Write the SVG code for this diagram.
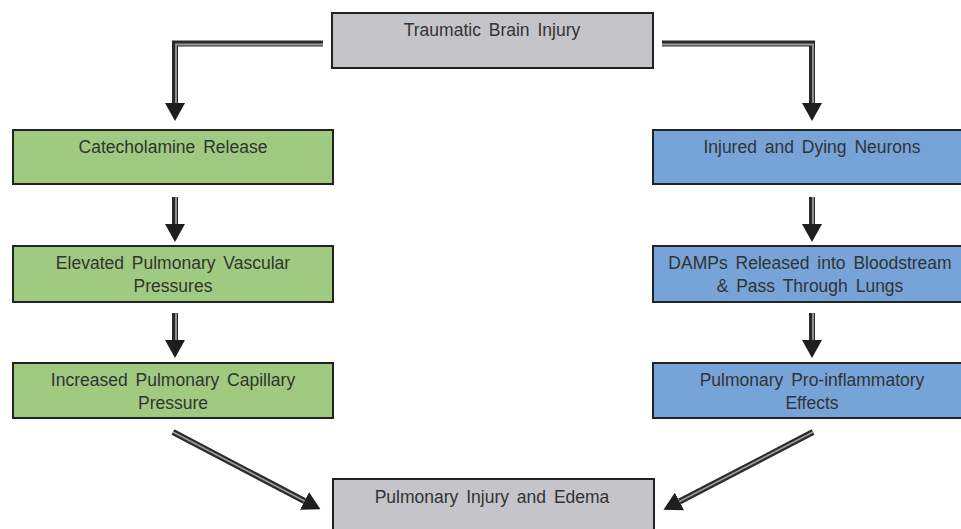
<svg xmlns="http://www.w3.org/2000/svg" width="961" height="529" viewBox="0 0 961 529">
<style>
.box{stroke:#222;stroke-width:2}
.gray{fill:#c4c4c9}
.green{fill:#9fca80}
.blue{fill:#76a3d8}
text{font-family:"Liberation Sans",Arial,sans-serif;font-size:17.5px;fill:#333;text-anchor:middle;word-spacing:3px}
.outer{fill:none;stroke:#2a2a2a;stroke-width:6;marker-end:url(#ah)}
.inner{fill:none;stroke:#9a9a9a;stroke-width:1.8}
</style>
<defs>
<marker id="ah" markerUnits="userSpaceOnUse" markerWidth="18" markerHeight="20" refX="0" refY="10" orient="auto" viewBox="0 0 18 20">
<path d="M0,0 L18,10 L0,20 z" fill="#1e1e1e"/>
</marker>
</defs>
<rect width="961" height="529" fill="#fff"/>
<g id="connectors">
<path class="outer" d="M323,43.5 H175 V103"/>
<path class="inner" d="M323,44.5 H176 V103"/>
<path class="outer" d="M662,43.5 H812 V103"/>
<path class="inner" d="M662,44.5 H813 V103"/>
<path class="outer" d="M175,197 V224"/>
<path class="inner" d="M176,197 V224"/>
<path class="outer" d="M175,313 V340"/>
<path class="inner" d="M176,313 V340"/>
<path class="outer" d="M812,197 V224"/>
<path class="inner" d="M813,197 V224"/>
<path class="outer" d="M812,313 V340"/>
<path class="inner" d="M813,313 V340"/>
<path class="outer" d="M173,432 L304.5,501"/>
<path class="inner" d="M173,432 L304.5,501"/>
<path class="outer" d="M813,432 L679.5,501.5"/>
<path class="inner" d="M813,432 L679.5,501.5"/>
</g>
<g id="tbi">
<rect class="box gray" x="332" y="13" width="321" height="55"/>
<text x="492" y="36">Traumatic Brain Injury</text>
</g>
<g id="catecholamine">
<rect class="box green" x="13" y="130" width="320" height="54"/>
<text x="173" y="153">Catecholamine Release</text>
</g>
<g id="elevated">
<rect class="box green" x="13" y="246" width="320" height="56"/>
<text x="173" y="269">Elevated Pulmonary Vascular</text>
<text x="173" y="292">Pressures</text>
</g>
<g id="increased">
<rect class="box green" x="13" y="363" width="320" height="55"/>
<text x="173" y="386">Increased Pulmonary Capillary</text>
<text x="173" y="409">Pressure</text>
</g>
<g id="neurons">
<rect class="box blue" x="653" y="130" width="320" height="54"/>
<text x="812" y="153">Injured and Dying Neurons</text>
</g>
<g id="damps">
<rect class="box blue" x="653" y="246" width="320" height="56"/>
<text x="810" y="269">DAMPs Released into Bloodstream</text>
<text x="810" y="292">&amp; Pass Through Lungs</text>
</g>
<g id="proinflammatory">
<rect class="box blue" x="653" y="363" width="320" height="55"/>
<text x="812" y="386">Pulmonary Pro-inflammatory</text>
<text x="812" y="409">Effects</text>
</g>
<g id="edema">
<rect class="box gray" x="333" y="479" width="321" height="60"/>
<text x="492" y="503">Pulmonary Injury and Edema</text>
</g>
</svg>
